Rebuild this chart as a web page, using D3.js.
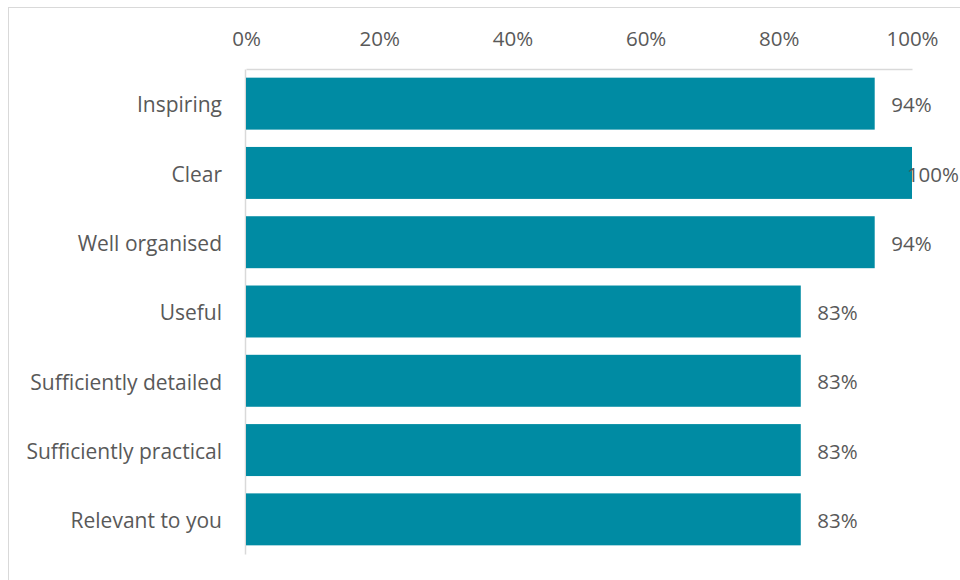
<!DOCTYPE html>
<html>
<head>
<meta charset="utf-8">
<script src="https://cdn.jsdelivr.net/npm/d3@7"></script>
<style>
  html, body { margin: 0; padding: 0; background: #fff; }
  svg { display: block; }
  text { font-family: "Open Sans", sans-serif; fill: #595959; }
</style>
</head>
<body>
<svg id="chart" width="960" height="580"></svg>
<script>
// Share of respondents agreeing with each statement
const categories = ["Inspiring", "Clear", "Well organised", "Useful",
  "Sufficiently detailed", "Sufficiently practical", "Relevant to you"];
const values = [0.944, 1.0, 0.944, 0.833, 0.833, 0.833, 0.833];
const tickValues = [0, 0.2, 0.4, 0.6, 0.8, 1.0];

const W = 960, H = 580;
const margin = { top: 69, right: 48, bottom: 26, left: 246 };
const numSize = 20.5, catSize = 21;
const svg = d3.select("#chart");

// outer chart frame (top and left edges fall inside the view)
svg.append("rect")
  .attr("x", 8.5).attr("y", 7.5)
  .attr("width", W + 20).attr("height", H + 20)
  .attr("fill", "none").attr("stroke", "#d9d9d9").attr("stroke-width", 1);

const x = d3.scaleLinear().domain([0, 1]).range([margin.left, W - margin.right]);
const y = d3.scaleBand().domain(categories)
  .range([margin.top, H - margin.bottom]).paddingInner(0.25).paddingOuter(0.125);

const fmt = d3.format(".0%");

// top axis
const xAxis = svg.append("g")
  .attr("transform", `translate(0,${margin.top})`)
  .call(d3.axisTop(x).tickValues(tickValues).tickFormat(fmt).tickSize(0).tickPadding(23));
xAxis.select(".domain").attr("stroke", "#d9d9d9").attr("stroke-width", 1.5);
xAxis.selectAll("text").attr("font-size", numSize).style("fill", "#595959")
  .attr("font-family", "'Open Sans', sans-serif");

// left axis
const yAxis = svg.append("g")
  .attr("transform", `translate(${margin.left - 1},0)`)
  .call(d3.axisLeft(y).tickSize(0).tickPadding(23));
yAxis.select(".domain").attr("stroke", "#d9d9d9").attr("stroke-width", 1.5);
yAxis.selectAll("text").attr("font-size", catSize).attr("dy", "0.42em")
  .style("fill", "#595959").attr("font-family", "'Open Sans', sans-serif");

// bars
svg.append("g").selectAll("rect")
  .data(values)
  .join("rect")
  .attr("x", x(0))
  .attr("y", (d, i) => y(categories[i]))
  .attr("width", d => x(d) - x(0))
  .attr("height", y.bandwidth())
  .attr("fill", "#008ba3");

// value labels, kept inside the chart area
const labels = svg.append("g").selectAll("text")
  .data(values)
  .join("text")
  .attr("y", (d, i) => y(categories[i]) + y.bandwidth() / 2)
  .attr("dy", "0.42em")
  .attr("font-size", numSize)
  .text(d => fmt(d));
labels.each(function(d) {
  const w = this.getComputedTextLength();
  d3.select(this).attr("x", Math.min(x(d) + 16.5, W - 1 - w));
});
</script>
</body>
</html>
